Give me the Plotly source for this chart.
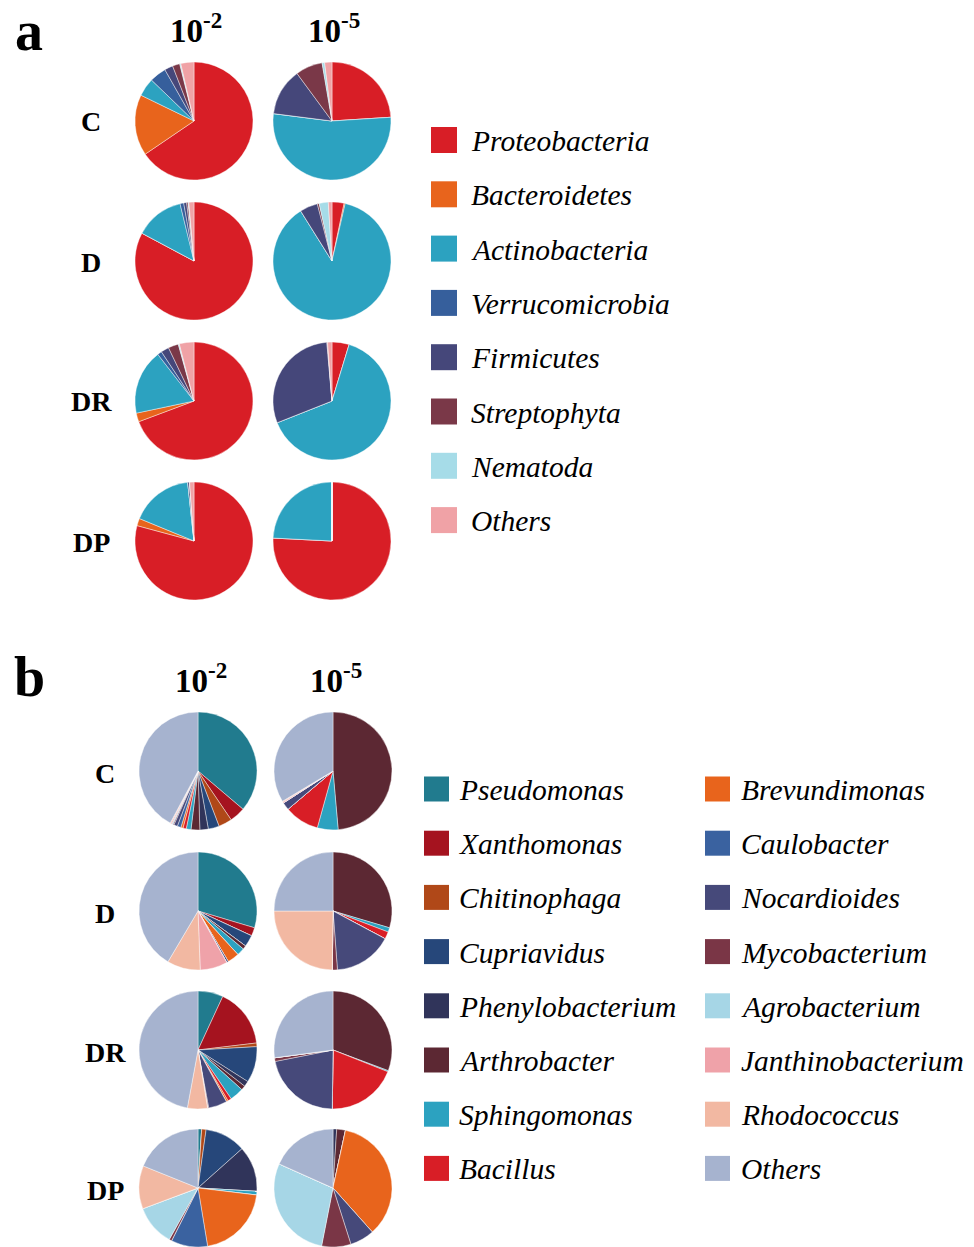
import plotly.graph_objects as go

W, H = 974, 1247

# ---------------- data ----------------
phyla = ["Proteobacteria", "Bacteroidetes", "Actinobacteria", "Verrucomicrobia",
         "Firmicutes", "Streptophyta", "Nematoda", "Others"]
phyla_colors = ["#d81e26", "#e8641c", "#2ca2c0", "#365f9c",
                "#45477a", "#7a3848", "#a6dce8", "#f0a2a6"]

samples = ["C", "D", "DR", "DP"]
dilutions = ["10<sup>-2</sup>", "10<sup>-5</sup>"]

a_C_2 = [65.5, 16.7, 5.0, 4.6, 2.3, 2.0, 0.3, 3.6]
a_C_5 = [24.0, 0, 53.0, 0, 12.9, 7.4, 0.7, 2.0]
a_D_2 = [82.8, 0, 13.4, 1.0, 0.8, 0.4, 0.2, 1.4]
a_D_5 = [3.3, 0.3, 87.5, 0, 4.9, 0.5, 2.5, 1.0]
a_DR_2 = [69.3, 2.4, 17.8, 1.2, 2.2, 2.8, 0.3, 4.0]
a_DR_5 = [4.7, 0, 64.3, 0, 29.6, 0.2, 0, 1.2]
a_DP_2 = [79.2, 2.0, 17.1, 0, 0.5, 0, 0, 1.2]
a_DP_5 = [75.8, 0, 24.2, 0, 0, 0, 0, 0]

genera = ["Pseudomonas", "Xanthomonas", "Chitinophaga", "Cupriavidus",
          "Phenylobacterium", "Arthrobacter", "Sphingomonas", "Bacillus",
          "Brevundimonas", "Caulobacter", "Nocardioides", "Mycobacterium",
          "Agrobacterium", "Janthinobacterium", "Rhodococcus", "Others"]
genera_colors = ["#217b8e", "#a5131f", "#b04818", "#26477a",
                 "#30345a", "#5c2833", "#2ca2c0", "#d81e26",
                 "#e8641c", "#3a62a0", "#46497a", "#7a3646",
                 "#a6d6e6", "#efa2a9", "#f2b8a2", "#a6b3cf"]

b_C_2 = [36.2, 4.3, 3.7, 3.0, 2.3, 2.4, 1.3, 0.9, 0.6, 1.0, 1.0, 0.3, 0.3, 0.3, 0.2, 42.2]
b_C_5 = [0, 0, 0, 0, 0, 48.6, 5.7, 9.5, 0, 0, 2.1, 0, 0, 0.3, 0.2, 33.6]
b_D_2 = [29.6, 2.3, 0, 3.2, 0, 1.0, 2.1, 0, 3.2, 0, 0.5, 0, 0, 7.5, 9.1, 41.5]
b_D_5 = [0, 0, 0, 0, 0, 29.6, 1.2, 2.0, 0, 0, 16.0, 1.4, 0, 0, 24.8, 25.0]
b_DR_2 = [6.9, 16.2, 1.0, 9.9, 1.5, 1.2, 3.8, 1.0, 0.5, 0, 5.1, 0.3, 0, 0, 5.5, 47.1]
b_DR_5 = [0, 0, 0, 0, 0, 30.7, 0.3, 19.2, 0, 0, 21.7, 1.0, 0, 0, 0, 27.1]
b_DP_2 = [1.0, 0, 1.2, 11.2, 12.5, 0, 1.0, 0, 20.5, 10.0, 0, 0.7, 11.2, 0, 11.8, 18.9]
b_DP_5 = [0, 0, 0, 0, 1.0, 2.4, 0, 0, 35.0, 0, 6.7, 8.0, 28.6, 0, 0, 18.3]

panel_a = [[a_C_2, a_C_5], [a_D_2, a_D_5], [a_DR_2, a_DR_5], [a_DP_2, a_DP_5]]
panel_b = [[b_C_2, b_C_5], [b_D_2, b_D_5], [b_DR_2, b_DR_5], [b_DP_2, b_DP_5]]

# ---------------- layout geometry (pixels) ----------------
FONT = "Liberation Serif"
a_cols = [194, 332]
a_rows = [121, 261, 401, 541]
b_cols = [198, 333]
b_rows = [771, 911, 1050, 1188]
R = 59


def px(x):
    return x / W


def py(y):
    return min(1.0, max(0.0, 1 - y / H))


fig = go.Figure()


def add_pie(vals, labels, colors, cx, cy, r):
    fig.add_trace(go.Pie(
        values=vals, labels=labels, sort=False, direction="clockwise", rotation=0,
        marker=dict(colors=colors, line=dict(color="rgba(255,255,255,0.7)", width=0.6)),
        textinfo="none", hoverinfo="label+percent", showlegend=False,
        domain=dict(x=[px(cx - r), px(cx + r)], y=[py(cy + r), py(cy - r)]),
    ))


for i, row in enumerate(panel_a):
    for j, vals in enumerate(row):
        add_pie(vals, phyla, phyla_colors, a_cols[j], a_rows[i], R)
for i, row in enumerate(panel_b):
    for j, vals in enumerate(row):
        add_pie(vals, genera, genera_colors, b_cols[j], b_rows[i], R)

ann = []
shapes = []


def text(x, y, s, size, xanchor="center"):
    ann.append(dict(x=px(x), y=py(y), xref="paper", yref="paper", text=s,
                    showarrow=False, xanchor=xanchor, yanchor="middle",
                    font=dict(family=FONT, size=size, color="black")))


# panel letters
text(29, 31, "<b>a</b>", 56)
text(29, 677, "<b>b</b>", 56)

# column headers
for j, d in enumerate(dilutions):
    text(a_cols[j] + 2, 28, "<b>" + d + "</b>", 33)
    text(b_cols[j] + 3, 678, "<b>" + d + "</b>", 33)

# row labels
for i, s in enumerate(samples):
    text(91, a_rows[i] + 1, "<b>" + s + "</b>", 28)
    text(105, b_rows[i] + 2, "<b>" + s + "</b>", 28)

# legend a
for k, (lab, col) in enumerate(zip(phyla, phyla_colors)):
    yc = 140 + k * 54.3
    shapes.append(dict(type="rect", xref="paper", yref="paper",
                       x0=px(431), x1=px(457), y0=py(yc + 13), y1=py(yc - 13),
                       fillcolor=col, line=dict(width=0)))
    text(469, yc + 1, "<i>" + lab + "</i>", 29.5, xanchor="left")

# legend b (two columns)
for k, (lab, col) in enumerate(zip(genera, genera_colors)):
    c, r_ = divmod(k, 8)
    sx = [424, 705][c]
    tx = [457, 739][c]
    yc = 789 + r_ * 54.2
    shapes.append(dict(type="rect", xref="paper", yref="paper",
                       x0=px(sx), x1=px(sx + 25), y0=py(yc + 12.5), y1=py(yc - 12.5),
                       fillcolor=col, line=dict(width=0)))
    text(tx, yc + 1, "<i>" + lab + "</i>", 29.5, xanchor="left")

fig.update_layout(
    width=W, height=H, margin=dict(l=0, r=0, t=0, b=0),
    paper_bgcolor="white", plot_bgcolor="white",
    annotations=ann, shapes=shapes, showlegend=False,
)

fig.write_html("out.html", config={"displayModeBar": False},
               post_script="document.body.style.margin='0px';document.body.style.overflow='hidden';")
